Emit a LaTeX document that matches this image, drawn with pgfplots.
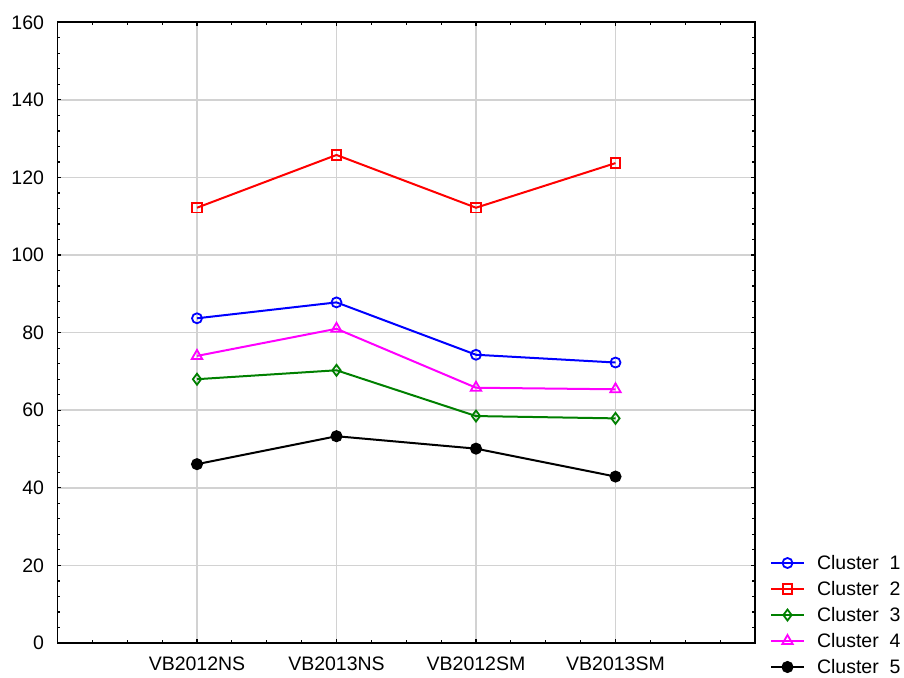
\documentclass[border=0pt]{standalone}
\usepackage{pgfplots}
\pgfplotsset{compat=1.18}
\usepackage{fontspec}
\setmainfont{Liberation Sans}

\definecolor{gridgray}{RGB}{210,210,210}
\definecolor{cblue}{RGB}{0,0,255}
\definecolor{cred}{RGB}{255,0,0}
\definecolor{cgreen}{RGB}{0,128,0}
\definecolor{cmagenta}{RGB}{255,0,255}

\begin{document}
\begin{tikzpicture}
\path[use as bounding box] (-57.5pt,-34pt) rectangle (846.5pt,643pt);
\begin{axis}[
  at={(0,0)}, anchor=south west,
  scale only axis,
  width=697.5pt, height=620.7pt,
  xmin=0, xmax=5,
  ymin=0, ymax=160,
  xtick={1,2,3,4},
  xticklabels={VB2012NS,VB2013NS,VB2012SM,VB2013SM},
  minor xtick={0.25,0.5,0.75,1.25,1.5,1.75,2.25,2.5,2.75,3.25,3.5,3.75,4.25,4.5,4.75},
  ytick={0,20,...,160},
  minor y tick num=4,
  tick align=inside,
  ticks=both,
  xtick pos=both, ytick pos=both,
  major tick length=4pt, minor tick length=3pt,
  every tick/.style={black, line width=1.2pt},
  axis line style={black, line width=1.8pt},
  xmajorgrids, ymajorgrids,
  major grid style={gridgray, line width=1.6pt},
  tick label style={font=\fontsize{19.5}{22}\selectfont},
  /pgf/number format/assume math mode=true,
  yticklabel style={xshift=-10pt},
  xticklabel style={yshift=-10pt},
  legend style={
    at={(axis description cs:1.0215,0.0451)}, anchor=west,
    draw=none, fill=none, inner sep=0pt, outer sep=0pt,
    font=\fontsize{19.5}{22}\selectfont,
    row sep=12.5pt, column sep=12pt,
    nodes={inner sep=0pt, text height=13.5pt, text depth=0pt},
  },
  legend cell align=left,
  legend image code/.code={
    \draw[mark repeat=2,mark phase=2] plot coordinates {(0pt,0pt) (16.5pt,0pt) (33pt,0pt)};
  },
]
% Cluster means per survey
\addplot[cblue, line width=2pt, mark=o, mark size=5pt, mark options={line width=1.8pt, solid}]
  coordinates {(1,83.7) (2,87.8) (3,74.3) (4,72.3)};
\addlegendentry{Cluster\ \ 1}
\addplot[cred, line width=2pt, mark=square, mark size=4.8pt, mark options={line width=1.8pt, solid}]
  coordinates {(1,112.2) (2,125.8) (3,112.2) (4,123.7)};
\addlegendentry{Cluster\ \ 2}
\addplot[cgreen, line width=2pt, mark=diamond, mark size=5.5pt, mark options={line width=1.8pt, solid}]
  coordinates {(1,68.0) (2,70.3) (3,58.5) (4,57.9)};
\addlegendentry{Cluster\ \ 3}
\addplot[cmagenta, line width=2pt, mark=triangle, mark size=6pt, mark options={line width=1.8pt, solid}]
  coordinates {(1,74.0) (2,81.0) (3,65.8) (4,65.4)};
\addlegendentry{Cluster\ \ 4}
\addplot[black, line width=2pt, mark=*, mark size=5pt]
  coordinates {(1,46.1) (2,53.3) (3,50.1) (4,42.9)};
\addlegendentry{Cluster\ \ 5}
\end{axis}
\end{tikzpicture}
\end{document}
